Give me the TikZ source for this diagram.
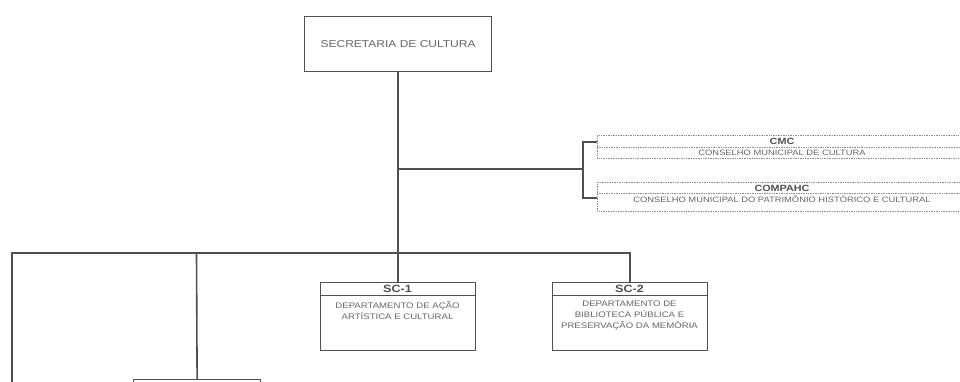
\documentclass[tikz,border=0pt]{standalone}
\usepackage{fontspec}
\setmainfont{Liberation Sans}[FakeStretch=1.2]
\definecolor{linegray}{HTML}{505050}
\definecolor{txtgray}{HTML}{666666}
\definecolor{dotgray}{HTML}{8A8A8A}
\begin{document}
\begin{tikzpicture}[x=1pt,y=-1pt,
  conn/.style={draw=linegray, line width=1.6pt},
  solidbox/.style={draw=linegray, line width=1.2pt, rectangle, inner sep=0pt, anchor=north west},
  dotbox/.style={draw=dotgray, line width=0.8pt, dash pattern=on 1pt off 0.7pt, rectangle, inner sep=0pt, anchor=north west},
  lbl/.style={text=txtgray, font=\fontsize{8}{11}\selectfont, align=center, inner sep=0pt},
  small/.style={text=txtgray, font=\fontsize{7.8}{9}\selectfont, inner sep=0pt},
  hdr/.style={text=linegray, font=\bfseries\fontsize{10.5}{12}\selectfont, inner sep=0pt},
  shdr/.style={text=linegray, font=\bfseries\fontsize{9}{10}\selectfont, inner sep=0pt},
]
\useasboundingbox (0,0) rectangle (960,381);
\clip (0,0) rectangle (960,381);

% boxes
\node[solidbox, minimum width=187pt, minimum height=55pt] (top) at (304,16) {};
\node[solidbox, minimum width=155pt, minimum height=68pt] (sc1) at (320,282) {};
\node[solidbox, minimum width=155pt, minimum height=68pt] (sc2) at (552,282) {};
\node[dotbox, minimum width=363pt, minimum height=23pt] (cmc) at (597,135) {};
\node[dotbox, minimum width=363pt, minimum height=29pt] (compahc) at (597,182) {};
\node[solidbox, minimum width=127pt, minimum height=40pt] (bot) at (133,379) {};

% header dividers
\draw[linegray, line width=1pt] ([yshift=-13pt]sc1.north west) -- ([yshift=-13pt]sc1.north east);
\draw[linegray, line width=1pt] ([yshift=-13pt]sc2.north west) -- ([yshift=-13pt]sc2.north east);
\draw[dotgray, line width=0.8pt, dash pattern=on 1pt off 0.7pt] ([yshift=-12pt]cmc.north west) -- ([yshift=-12pt]cmc.north east);
\draw[dotgray, line width=0.8pt, dash pattern=on 1pt off 0.7pt] ([yshift=-11pt]compahc.north west) -- ([yshift=-11pt]compahc.north east);

% texts
\node[lbl, font=\fontsize{10}{12}\selectfont] (toptxt) at (top.center) {SECRETARIA DE CULTURA};
\node[hdr] (sc1h) at (397.5,289) {SC-1};
\node[lbl] (sc1t) at (397.5,310.5) {DEPARTAMENTO DE AÇÃO\\ARTÍSTICA E CULTURAL};
\node[hdr] (sc2h) at (629.5,289) {SC-2};
\node[lbl] (sc2t) at (629.5,315.5) {DEPARTAMENTO DE\\BIBLIOTECA PÚBLICA E\\PRESERVAÇÃO DA MEMÓRIA};
\node[shdr] (cmch) at (782,141.5) {CMC};
\node[small] (cmct) at (782,152.5) {CONSELHO MUNICIPAL DE CULTURA};
\node[shdr] (comh) at (782,188) {COMPAHC};
\node[small] (comt) at (782,199.5) {CONSELHO MUNICIPAL DO PATRIMÔNIO HISTÓRICO E CULTURAL};

% connectors
\coordinate (jr) at (397.5,169);
\coordinate (brk) at (583,169);
\coordinate (bt) at (583,142);
\coordinate (bb) at (583,198);
\coordinate (hl) at (12,253);
\coordinate (hm) at (196.5,253);
\coordinate (lend) at (12,385);

\draw[conn] (top.south) -- (sc1.north);
\draw[conn] (jr) -- (brk);
\draw[conn] (bt -| cmc.west) -- (bt) -- (bb) -- (bb -| compahc.west);
\draw[conn] (lend) -- (hl) -| (sc2.north);
\draw[conn] (hm) -- (bot.north);
\end{tikzpicture}
\end{document}
